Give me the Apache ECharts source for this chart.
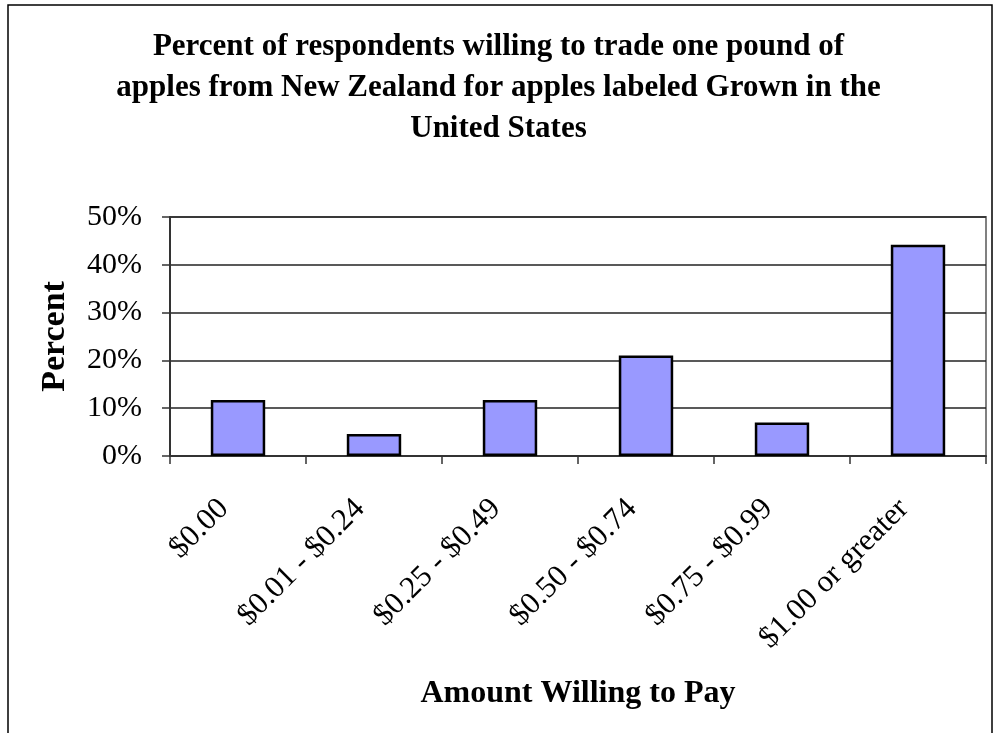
<!DOCTYPE html>
<html>
<head>
<meta charset="utf-8">
<script src="https://cdn.jsdelivr.net/npm/echarts@6/dist/echarts.min.js"></script>
<style>
html,body{margin:0;padding:0;background:#fff;}
#c{width:997px;height:733px;}
</style>
</head>
<body>
<div id="c"></div>
<script>
const titleText = "Percent of respondents willing to trade one pound of\napples from New Zealand for apples labeled Grown in the\nUnited States";
const categories = ["$0.00", "$0.01 - $0.24", "$0.25 - $0.49", "$0.50 - $0.74", "$0.75 - $0.99", "$1.00 or greater"];
const percentValues = [11.7, 4.6, 11.7, 21.0, 7.0, 44.2];
const yTicks = { min: 0, max: 50, interval: 10 };
const xAxisTitle = "Amount Willing to Pay";
const yAxisTitle = "Percent";

const FONT = "'Liberation Serif', 'Times New Roman', serif";
const chart = echarts.init(document.getElementById('c'));
chart.setOption({
  animation: false,
  backgroundColor: '#fff',
  textStyle: { fontFamily: FONT },
  title: {
    text: titleText,
    left: 'center',
    top: 21,
    textStyle: { fontFamily: FONT, fontSize: 31, fontWeight: 'bold', color: '#000', lineHeight: 41 }
  },
  graphic: [{
    type: 'rect',
    shape: { x: 8, y: 5, width: 984, height: 760 },
    style: { fill: 'none', stroke: '#000', lineWidth: 1.5 },
    silent: true
  }],
  grid: {
    left: 170, right: 11, top: 217, bottom: 277,
    show: true, borderColor: '#808080', borderWidth: 2, backgroundColor: '#fff'
  },
  xAxis: {
    type: 'category',
    data: categories,
    name: xAxisTitle,
    nameLocation: 'middle',
    nameGap: 222,
    nameTextStyle: { fontFamily: FONT, fontSize: 32, fontWeight: 'bold', color: '#000' },
    axisLine: { lineStyle: { color: '#333', width: 2 } },
    axisTick: { show: true, length: 8, alignWithLabel: false, lineStyle: { color: '#333', width: 1.5 } },
    axisLabel: { rotate: 45, fontFamily: FONT, fontSize: 31, color: '#000', margin: 34, interval: 0, padding: [0, 20, 0, 0] },
    splitLine: { show: false }
  },
  yAxis: {
    type: 'value',
    min: yTicks.min, max: yTicks.max, interval: yTicks.interval,
    name: yAxisTitle,
    nameLocation: 'middle',
    nameGap: 98,
    nameRotate: 90,
    nameTextStyle: { fontFamily: FONT, fontSize: 34, fontWeight: 'bold', color: '#000' },
    axisLine: { show: true, lineStyle: { color: '#333', width: 2 } },
    axisTick: { show: true, length: 8, inside: false, lineStyle: { color: '#333', width: 1.5 } },
    axisLabel: { fontFamily: FONT, fontSize: 30, color: '#000', margin: 28, formatter: '{value}%' },
    splitLine: { show: true, lineStyle: { color: '#222', width: 1.5 } }
  },
  series: [{
    type: 'bar',
    data: percentValues,
    barWidth: '40%',
    itemStyle: { color: '#9999FF', borderColor: '#000', borderWidth: 2.5 }
  }]
});
</script>
</body>
</html>
